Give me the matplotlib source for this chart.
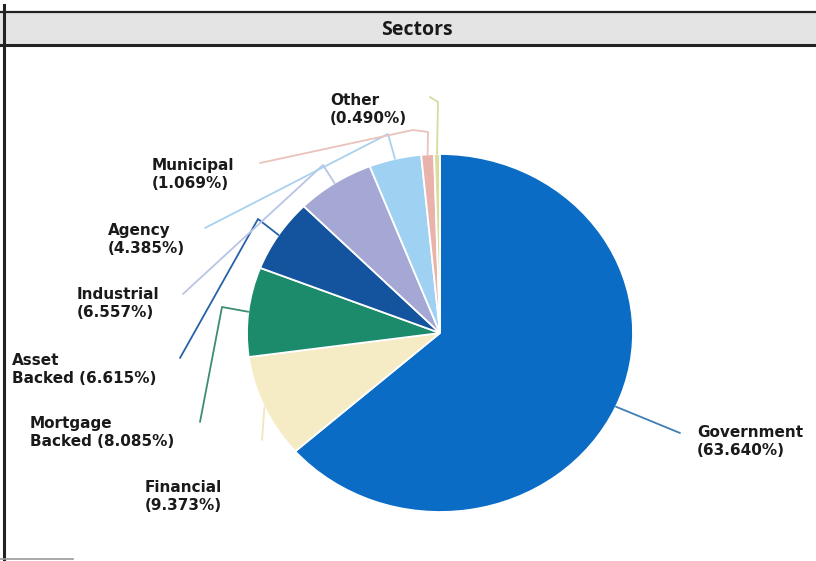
import matplotlib
matplotlib.use('Agg')
import matplotlib.pyplot as plt
import numpy as np

# sector weights, clockwise from 12 o'clock
sectors = ['Government', 'Financial', 'Mortgage\nBacked', 'Asset\nBacked', 'Industrial',
           'Agency', 'Municipal', 'Other']
weights = [63.640, 9.373, 8.085, 6.615, 6.557, 4.385, 1.069, 0.490]
colors = ['#0A6CC4', '#F5ECC6', '#1B8B6B', '#14549F', '#A5A8D5', '#9FD2F2', '#E9B2AB', '#DCDD9C']
line_colors = ['#3F7FB5', '#F0E6C0', '#3E8D72', '#2762A8', '#B9C4E6', '#A9D1EE', '#EBC2BC', '#D9DA9E']

W, H = 816, 561
k = 193 / 179  # the scanned pie is a bit wider than tall


def px(x, y):
    # reference pixel position -> data coords
    return x, (H - y) * k


fig = plt.figure(figsize=(W / 100, H / 100), dpi=100, facecolor='white')
ax = fig.add_axes([0, 0, 1, 1])

# title band and frame
band_bot = px(0, 45)[1]
band_top = px(0, 12)[1]
ax.fill_between([0, W], band_bot, band_top, color='#E4E4E4', zorder=0)
ax.plot([0, W], [band_top, band_top], color='#222222', lw=1.6)
ax.plot([0, W], [band_bot, band_bot], color='#222222', lw=2.2)
ax.plot([4, 4], [px(0, 5)[1], 0], color='#222222', lw=2.2)
ax.plot([0, 73], [px(0, 559)[1]] * 2, color='#999999', lw=1.2)
ax.text(*px(417, 30), 'Sectors', ha='center', va='center', fontsize=14,
        fontweight='bold', family='Open Sans', color='#1A1A1A')

cx, cy = px(440, 333)
wedges, _ = ax.pie(weights, colors=colors, startangle=90, counterclock=False,
                   center=(cx, cy), radius=193,
                   wedgeprops=dict(edgecolor='white', linewidth=1.3))

# label placement (reference pixels): text top-left, and leader path after the slice edge
layout = {
    'Government': ((697, 425), [(680, 433)]),
    'Financial': ((145, 480), [(262, 440)]),
    'Mortgage\nBacked': ((30, 416), [(222, 307), (200, 422)]),
    'Asset\nBacked': ((12, 353), [(258, 219), (180, 358)]),
    'Industrial': ((77, 287), [(323, 165), (183, 294)]),
    'Agency': ((108, 223), [(388, 134), (205, 228)]),
    'Municipal': ((152, 158), [(428, 132), (413, 130), (260, 163)]),
    'Other': ((330, 93), [(438, 102), (430, 97)]),
}
label_text = {
    'Government': 'Government\n(63.640%)',
    'Financial': 'Financial\n(9.373%)',
    'Mortgage\nBacked': 'Mortgage\nBacked (8.085%)',
    'Asset\nBacked': 'Asset\nBacked (6.615%)',
    'Industrial': 'Industrial\n(6.557%)',
    'Agency': 'Agency\n(4.385%)',
    'Municipal': 'Municipal\n(1.069%)',
    'Other': 'Other\n(0.490%)',
}

for w, name, lc in zip(wedges, sectors, line_colors):
    mid = np.deg2rad((w.theta1 + w.theta2) / 2)
    sx = cx + 193 * np.cos(mid)
    sy = cy + 193 * np.sin(mid)
    (tx, ty), path = layout[name]
    xs = [sx] + [px(*p)[0] for p in path]
    ys = [sy] + [px(*p)[1] for p in path]
    ax.plot(xs, ys, color=lc, lw=1.3, solid_capstyle='round', zorder=1)
    ax.text(*px(tx, ty), label_text[name], ha='left', va='top', fontsize=11,
            fontweight='bold', family='DejaVu Sans', color='#1A1A1A', linespacing=1.25)

ax.set_aspect('auto')
ax.set_xlim(0, W)
ax.set_ylim(0, H * k)
ax.axis('off')

fig.savefig('out.png', dpi=100, facecolor='white')
